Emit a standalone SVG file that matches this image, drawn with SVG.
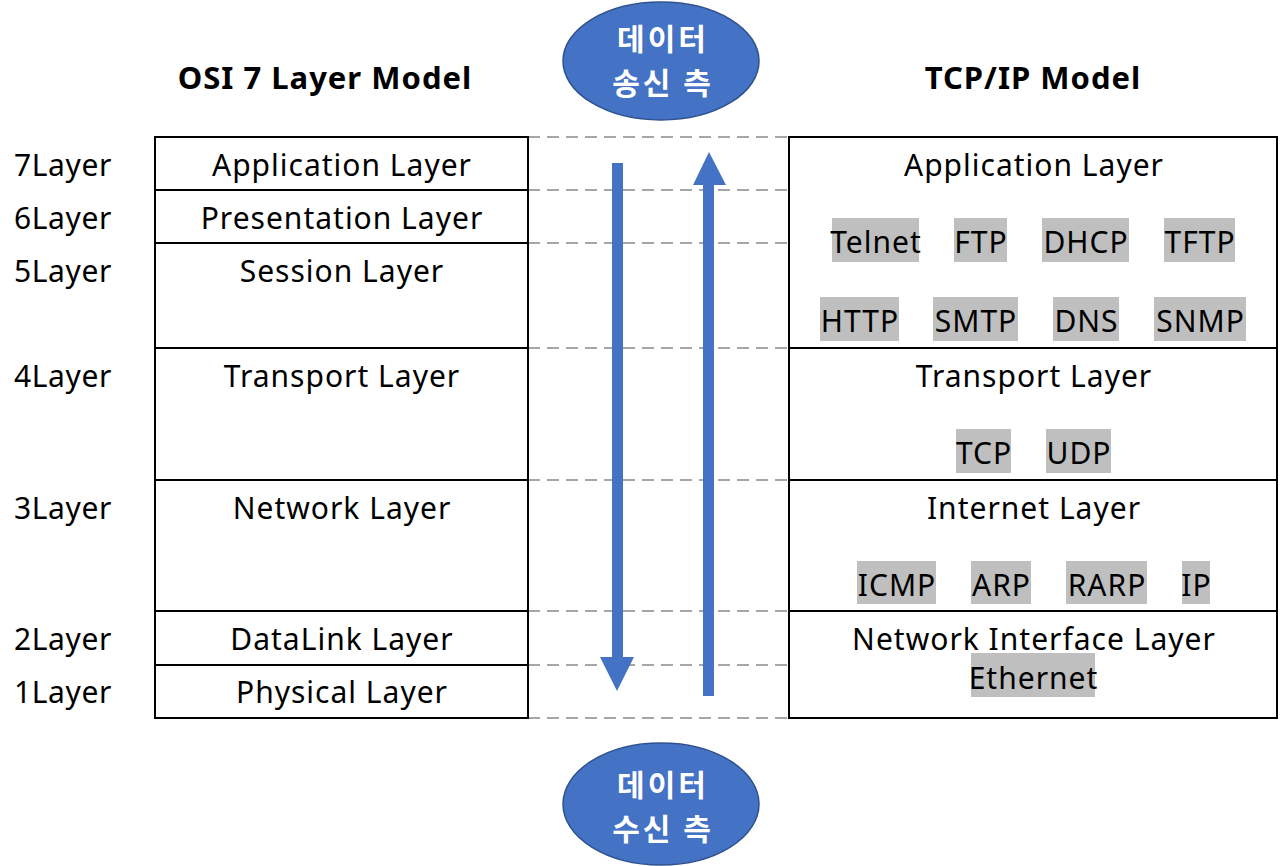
<svg xmlns="http://www.w3.org/2000/svg" width="1280" height="866" viewBox="0 0 1280 866">
<style>
text{font-family:"Noto Sans","Noto Sans CJK KR",sans-serif;fill:#000}
.t{font-size:30px;letter-spacing:1px;text-anchor:middle}
.l{font-size:30px;letter-spacing:0.6px}
.h{font-size:31px;letter-spacing:1px;font-weight:bold;text-anchor:middle}
.e{font-size:30px;letter-spacing:3px;font-weight:bold;fill:#fff;text-anchor:middle;font-family:"Noto Sans CJK KR",sans-serif}
.box{fill:#fff;stroke:#000;stroke-width:2}
.g{fill:#bfbfbf}
.d{stroke:#a6a6a6;stroke-width:2;stroke-dasharray:12 7;fill:none}
.ell{fill:#4472c4;stroke:#2f528f;stroke-width:1.5}
.arr{fill:#4472c4}
</style>
<rect width="1280" height="866" fill="#fff"/>
<text class="h" x="325" y="89">OSI 7 Layer Model</text>
<text class="h" x="1033" y="89">TCP/IP Model</text>
<g id="connectors">
<path class="d" d="M528 137H789M528 190H789M528 243H789M528 348H789M528 480H789M528 611H789M528 665H789M528 718H789"/>
<polygon class="arr" points="612,163 623,163 623,657 634,657 617,691 600,657 612,657"/>
<polygon class="arr" points="703,696 714,696 714,185 726,185 709,152 693,185 703,185"/>
</g>
<g id="sender"><ellipse class="ell" cx="661" cy="61" rx="98" ry="59"/><text class="e" x="663" y="50">데이터</text><text class="e" x="663" y="94">송신 측</text></g>
<g id="receiver"><ellipse class="ell" cx="661" cy="804" rx="98" ry="61"/><text class="e" x="663" y="796">데이터</text><text class="e" x="663" y="840">수신 측</text></g>
<g id="osi">
<rect class="box" x="155" y="137" width="373" height="581"/>
<path d="M155 190H528M155 243H528M155 348H528M155 480H528M155 611H528M155 665H528" stroke="#000" stroke-width="2"/>
<text class="t" x="342" y="176">Application Layer</text>
<text class="t" x="342" y="229">Presentation Layer</text>
<text class="t" x="342" y="282">Session Layer</text>
<text class="t" x="342" y="387">Transport Layer</text>
<text class="t" x="342" y="519">Network Layer</text>
<text class="t" x="342" y="650">DataLink Layer</text>
<text class="t" x="342" y="703">Physical Layer</text>
</g>
<g id="layer-numbers">
<text class="l" x="14" y="176">7Layer</text>
<text class="l" x="14" y="229">6Layer</text>
<text class="l" x="14" y="282">5Layer</text>
<text class="l" x="14" y="387">4Layer</text>
<text class="l" x="14" y="519">3Layer</text>
<text class="l" x="14" y="650">2Layer</text>
<text class="l" x="14" y="703">1Layer</text>
</g>
<g id="tcpip">
<rect class="box" x="789" y="137" width="488" height="581"/>
<path d="M789 348H1277M789 480H1277M789 611H1277" stroke="#000" stroke-width="2"/>
<text class="t" x="1034" y="176">Application Layer</text>
<text class="t" x="1034" y="387">Transport Layer</text>
<text class="t" x="1034" y="519">Internet Layer</text>
<text class="t" x="1034" y="650">Network Interface Layer</text>
</g>
<g id="protocols">
<rect class="g" x="832" y="218" width="87" height="44"/><text class="t" x="876" y="253">Telnet</text>
<rect class="g" x="954" y="218" width="53" height="44"/><text class="t" x="981" y="253">FTP</text>
<rect class="g" x="1042" y="218" width="87" height="44"/><text class="t" x="1086" y="253">DHCP</text>
<rect class="g" x="1164" y="218" width="71" height="44"/><text class="t" x="1200" y="253">TFTP</text>
<rect class="g" x="820" y="297" width="79" height="44"/><text class="t" x="860" y="332">HTTP</text>
<rect class="g" x="933" y="297" width="85" height="44"/><text class="t" x="976" y="332">SMTP</text>
<rect class="g" x="1053" y="297" width="66" height="44"/><text class="t" x="1086.5" y="332">DNS</text>
<rect class="g" x="1154" y="297" width="92" height="44"/><text class="t" x="1200.5" y="332">SNMP</text>
<rect class="g" x="956" y="429" width="55" height="44"/><text class="t" x="984" y="464">TCP</text>
<rect class="g" x="1046" y="429" width="65" height="44"/><text class="t" x="1079" y="464">UDP</text>
<rect class="g" x="857" y="561" width="79" height="43"/><text class="t" x="897" y="596">ICMP</text>
<rect class="g" x="971" y="561" width="60" height="43"/><text class="t" x="1001.5" y="596">ARP</text>
<rect class="g" x="1066" y="561" width="81" height="43"/><text class="t" x="1107" y="596">RARP</text>
<rect class="g" x="1182" y="561" width="28" height="43"/><text class="t" x="1196.5" y="596">IP</text>
<rect class="g" x="971" y="653" width="124" height="44"/><text class="t" x="1033.5" y="689">Ethernet</text>
</g>
</svg>
